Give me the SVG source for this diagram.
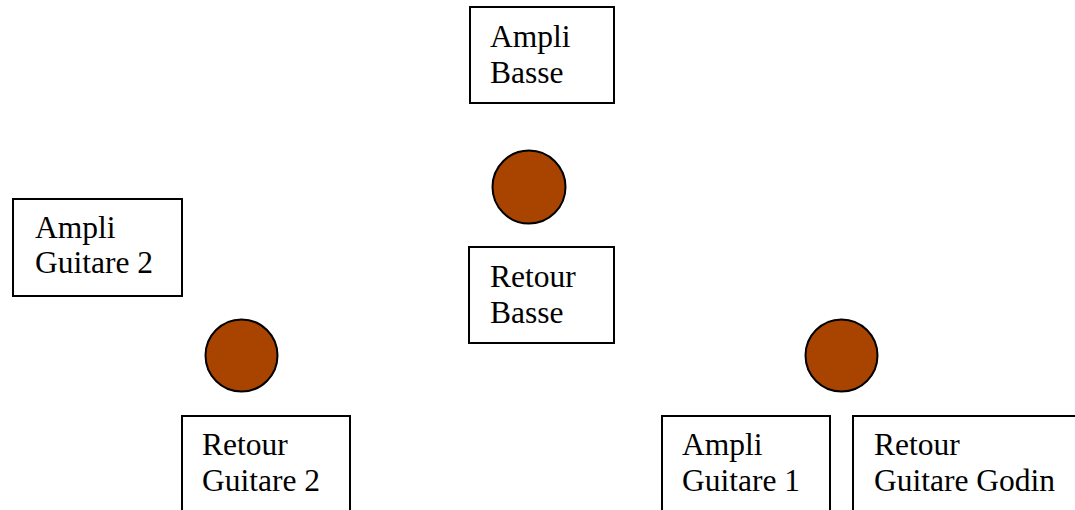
<svg xmlns="http://www.w3.org/2000/svg" width="1075" height="510" viewBox="0 0 1075 510">
<style>
.box{fill:#fff;stroke:#000;stroke-width:2}
.dot{fill:#a84400;stroke:#000;stroke-width:2}
text{font-family:"Liberation Serif","Times New Roman",serif;font-size:31.5px;fill:#000}
</style>
<rect width="1075" height="510" fill="#fff"/>
<g id="ampli-basse"><rect class="box" x="470" y="7" width="144" height="96"/><text x="490" y="47">Ampli</text><text x="490" y="83">Basse</text></g>
<g id="dot-basse"><circle class="dot" cx="529" cy="187" r="36.5"/></g>
<g id="retour-basse"><rect class="box" x="469" y="247" width="145" height="96"/><text x="490" y="287">Retour</text><text x="490" y="323">Basse</text></g>
<g id="ampli-guitare-2"><rect class="box" x="13" y="199" width="169" height="97"/><text x="35" y="238">Ampli</text><text x="35" y="273">Guitare 2</text></g>
<g id="dot-guitare-2"><circle class="dot" cx="241.5" cy="355.5" r="36"/></g>
<g id="retour-guitare-2"><rect class="box" x="182" y="416" width="168" height="110"/><text x="202" y="455">Retour</text><text x="202" y="491">Guitare 2</text></g>
<g id="dot-guitare-1"><circle class="dot" cx="841.5" cy="355.5" r="36"/></g>
<g id="ampli-guitare-1"><rect class="box" x="662" y="416" width="168" height="110"/><text x="682" y="455">Ampli</text><text x="682" y="491">Guitare 1</text></g>
<g id="retour-guitare-godin"><rect class="box" x="853" y="416" width="240" height="110"/><text x="874" y="455">Retour</text><text x="874" y="491">Guitare Godin</text></g>
<g id="connectors"></g>
</svg>
